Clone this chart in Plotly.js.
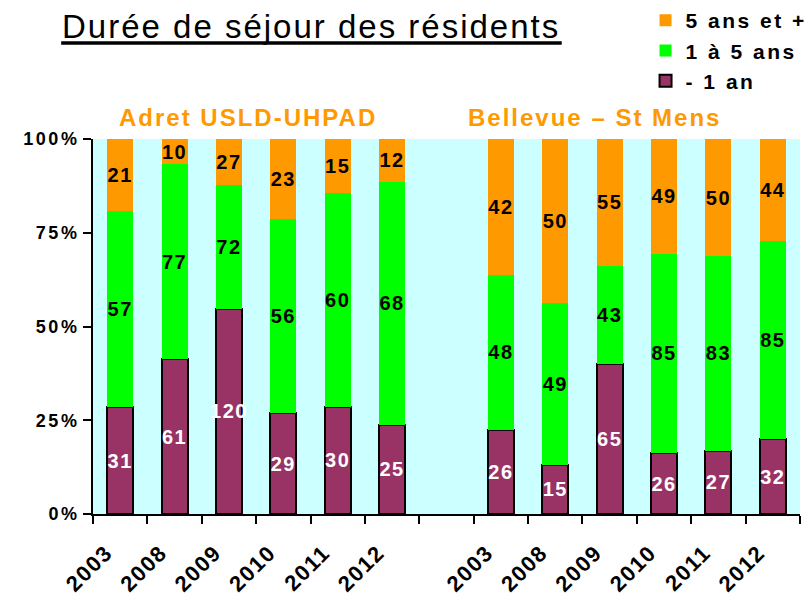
<!DOCTYPE html>
<html>
<head>
<meta charset="utf-8">
<script src="https://cdn.plot.ly/plotly-3.0.1.min.js"></script>
<style>
html,body{margin:0;padding:0;background:#fff;}
#chart{width:812px;height:597px;}
.xtick text {letter-spacing:1.5px;}
.ytick text {letter-spacing:2.5px;}
.bartext text, text.bartext {letter-spacing:1.5px;}
.legendtext {letter-spacing:2.5px;}
.annotation-text {letter-spacing:2px;}
</style>
</head>
<body>
<div id="chart"></div>
<script>
// Categories: two sites, 6 years each, with an empty slot between them
var years = ['2003','2008','2009','2010','2011','2012','','2003','2008','2009','2010','2011','2012'];
var positions = [0,1,2,3,4,5,6,7,8,9,10,11,12];
// Number of residents per length of stay (null = gap)
var moins1an = [31,61,120,29,30,25,null,26,15,65,26,27,32];
var unA5ans  = [57,77,72,56,60,68,null,48,49,43,85,83,85];
var cinqPlus = [21,10,27,23,15,12,null,42,50,55,49,50,44];
var seriesNames = ['- 1 an','1 à 5 ans','5 ans et +'];
var groupLabels = ['Adret USLD-UHPAD','Bellevue – St Mens'];
var yTickVals = [0,25,50,75,100];
var yTickText = ['0%','25%','50%','75%','100%'];

var FF = 'Liberation Sans, Arial, sans-serif';
var barFont = {family:FF, size:20, weight:'bold'};

function txt(arr){return arr.map(function(v){return v===null?'':String(v);});}

function mk(y, name, color, tcolor, line){
  return {type:'bar', x:positions, y:y, name:name, text:txt(y),
   textposition:'inside', insidetextanchor:'middle', constraintext:'none', textangle:0,
   textfont:Object.assign({color:tcolor}, barFont),
   marker:{color:color, line:line}, width:0.48, hoverinfo:'skip'};
}

var traces = [
  mk(moins1an, seriesNames[0], '#993366', '#ffffff', {color:'#000000', width:2}),
  mk(unA5ans, seriesNames[1], '#00FF00', '#000000', {width:0}),
  mk(cinqPlus, seriesNames[2], '#FF9900', '#000000', {width:0})
];

var boundaries = [];
for (var i = 0; i <= positions.length; i++) boundaries.push(i - 0.5);

var layout = {
  width:812, height:597,
  margin:{l:93, r:12, t:139, b:83, pad:0, autoexpand:false},
  paper_bgcolor:'#ffffff',
  plot_bgcolor:'#CCFFFF',
  barmode:'stack', barnorm:'percent',
  showlegend:true,
  legend:{xref:'container', yref:'container', x:0.795, y:1.0, xanchor:'left', yanchor:'top',
          traceorder:'reversed', font:{family:FF, size:21, weight:'bold', color:'#000'},
          bgcolor:'rgba(0,0,0,0)', tracegroupgap:0, itemwidth:30},
  xaxis:{range:[-0.5,12.5], tickmode:'array', tickvals:positions, ticktext:years,
         tickangle:-45, ticks:'', showgrid:false, zeroline:false,
         showline:true, linecolor:'#000', linewidth:2,
         ticklabelshift:-14, ticklabelstandoff:15,
         tickfont:{family:FF, size:22, weight:'bold', color:'#000'},
         minor:{tickmode:'array', tickvals:boundaries, ticks:'outside', ticklen:8, tickwidth:2, tickcolor:'#000', showgrid:false}},
  yaxis:{range:[0,100], tickmode:'array', tickvals:yTickVals, ticktext:yTickText,
         ticks:'outside', ticklen:8, tickwidth:2, tickcolor:'#000',
         showgrid:false, zeroline:false, showline:true, linecolor:'#000', linewidth:2,
         tickfont:{family:FF, size:18, weight:'bold', color:'#000'}},
  annotations:[
    {text:'Durée de séjour des résidents', xref:'paper', yref:'paper', x:-0.046, y:1.3,
     xanchor:'left', yanchor:'middle', showarrow:false,
     font:{family:FF, size:33, color:'#000'}},
    {text:groupLabels[0], xref:'x', yref:'paper', x:2.35, y:1.056, xanchor:'center', yanchor:'middle',
     showarrow:false, font:{family:FF, size:24, weight:'bold', color:'#FF9900'}},
    {text:groupLabels[1], xref:'x', yref:'paper', x:8.72, y:1.056, xanchor:'center', yanchor:'middle',
     showarrow:false, font:{family:FF, size:24, weight:'bold', color:'#FF9900'}}
  ],
  shapes:[
    {type:'line', xref:'paper', yref:'paper', x0:-0.045, x1:0.663, y0:1.256, y1:1.256, line:{color:'#000', width:3.5}}
  ]
};

Plotly.newPlot('chart', traces, layout, {displayModeBar:false, staticPlot:true});
</script>
</body>
</html>
